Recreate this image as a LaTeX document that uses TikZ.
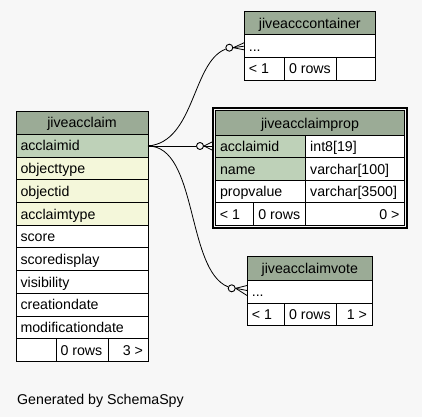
\documentclass[tikz,border=0pt]{standalone}
\usepackage{fontspec}
\setmainfont{Liberation Sans}
\definecolor{bg}{HTML}{F7F7F7}
\definecolor{hdr}{HTML}{9BAB96}
\definecolor{pk}{HTML}{BED1B8}
\definecolor{idx}{HTML}{F4F7DA}
\begin{document}
\begin{tikzpicture}[x=1pt,y=-1pt,line width=1pt,
  cellbox/.style={draw=black},
  txt/.style={inner sep=0pt,anchor=base west,font=\fontsize{14.2}{16}\selectfont},
  rtxt/.style={txt,anchor=base east},
  htxt/.style={txt,anchor=base},
  odot/.style={circle,draw=black,fill=bg,line width=0.9pt,minimum size=7pt,inner sep=0pt},
  edge/.style={draw=black,line width=0.8pt}]
\useasboundingbox[fill=bg] (0,0) rectangle (422,417);

% ---------- jiveacclaim ----------
\draw[cellbox,fill=hdr] (16,111) rectangle (148,134.3);
\node[htxt] (ja-h) at (82,127.6) {jiveacclaim};
\foreach \nm/\cl [count=\i from 0] in {acclaimid/pk,objecttype/idx,objectid/idx,acclaimtype/idx,score/white,scoredisplay/white,visibility/white,creationdate/white,modificationdate/white}{
  \pgfmathsetmacro\yt{134.3+\i*22.72}
  \draw[cellbox,fill=\cl] (16,\yt) rectangle (148,\yt+22.72);
  \node[txt] (ja-\nm) at (20,\yt+16.6) {\nm};
}
\draw[cellbox,fill=white] (16,338.8) rectangle (56,361.5);
\draw[cellbox,fill=white] (56,338.8) rectangle (108,361.5);
\draw[cellbox,fill=white] (108,338.8) rectangle (148,361.5);
\node[txt] (ja-rows) at (60,355.2) {0 rows};
\node[rtxt] (ja-next) at (143.5,355.2) {3 >};

% ---------- jiveacccontainer ----------
\draw[cellbox,fill=hdr] (244.3,11.3) rectangle (375.3,35);
\node[htxt] (jc-h) at (309.8,28.2) {jiveacccontainer};
\draw[cellbox,fill=white] (244.3,35) rectangle (375.3,57.3);
\node[txt] (jc-dots) at (248.3,51.2) {...};
\draw[cellbox,fill=white] (244.3,57.3) rectangle (284.3,80.3);
\draw[cellbox,fill=white] (284.3,57.3) rectangle (336.7,80.3);
\draw[cellbox,fill=white] (336.7,57.3) rectangle (375.3,80.3);
\node[txt] (jc-prev) at (248.3,74) {< 1};
\node[txt] (jc-rows) at (288.5,74) {0 rows};

% ---------- jiveacclaimprop ----------
\draw[line width=2pt] (213,108) rectangle (407,227.5);
\draw[cellbox,fill=hdr] (215.5,110.5) rectangle (404.5,135);
\node[htxt] (jp-h) at (310,128) {jiveacclaimprop};
\foreach \nm/\ty/\cl [count=\i from 0] in {acclaimid/int8[19]/pk,name/varchar[100]/pk,propvalue/varchar[3500]/white}{
  \pgfmathsetmacro\yt{135+\i*22.625}
  \draw[cellbox,fill=\cl] (215.5,\yt) rectangle (305.7,\yt+22.625);
  \draw[cellbox,fill=white] (305.7,\yt) rectangle (404.5,\yt+22.625);
  \node[txt] (jp-\nm) at (219.5,\yt+16.5) {\nm};
  \node[txt] (jp-\nm-t) at (309.7,\yt+16.5) {\ty};
}
\draw[cellbox,fill=white] (215.5,202.9) rectangle (253.3,225.5);
\draw[cellbox,fill=white] (253.3,202.9) rectangle (305.7,225.5);
\draw[cellbox,fill=white] (305.7,202.9) rectangle (404.5,225.5);
\node[txt] (jp-prev) at (219.3,219.4) {< 1};
\node[txt] (jp-rows) at (257.8,219.4) {0 rows};
\node[rtxt] (jp-next) at (400,219.4) {0 >};

% ---------- jiveacclaimvote ----------
\draw[cellbox,fill=hdr] (247.3,256) rectangle (372.3,280.3);
\node[htxt] (jv-h) at (309.8,273.4) {jiveacclaimvote};
\draw[cellbox,fill=white] (247.3,280.3) rectangle (372.3,303);
\node[txt] (jv-dots) at (251.3,296.6) {...};
\draw[cellbox,fill=white] (247.3,303) rectangle (284.3,325.3);
\draw[cellbox,fill=white] (284.3,303) rectangle (336.3,325.3);
\draw[cellbox,fill=white] (336.3,303) rectangle (372.3,325.3);
\node[txt] (jv-prev) at (251.3,319.2) {< 1};
\node[txt] (jv-rows) at (288.5,319.2) {0 rows};
\node[rtxt] (jv-next) at (367.5,319.2) {1 >};

% ---------- connectors ----------
\coordinate (src) at (148,146);
\node[odot] (c1) at (229.3,47.7) {};
\node[odot] (c2) at (200,146) {};
\node[odot] (c3) at (231.7,288.3) {};
\coordinate (k1a) at (244,42.8);
\coordinate (k1b) at (244,46.2);
\coordinate (k1c) at (244,49.8);
\coordinate (k2a) at (212,142);
\coordinate (k2b) at (212,146);
\coordinate (k2c) at (212,150);
\coordinate (k3a) at (247,285.5);
\coordinate (k3b) at (247,290.5);
\coordinate (k3c) at (247,295.5);

\draw[edge] (src) .. controls (195,142) and (192,62) .. (c1);
\draw[edge] (src) -- (c2);
\draw[edge] (src) .. controls (198,146) and (186,270) .. (c3);
\draw[line width=1.6pt] (src) -- ++(5,0);
\foreach \c/\k in {c1/k1,c2/k2,c3/k3}{
  \draw[edge] (\c.east) -- (\k a);
  \draw[edge] (\c.east) -- (\k b);
  \draw[edge] (\c.east) -- (\k c);
}

\node[txt] (gen) at (16.7,404) {Generated by SchemaSpy};
\end{tikzpicture}
\end{document}
